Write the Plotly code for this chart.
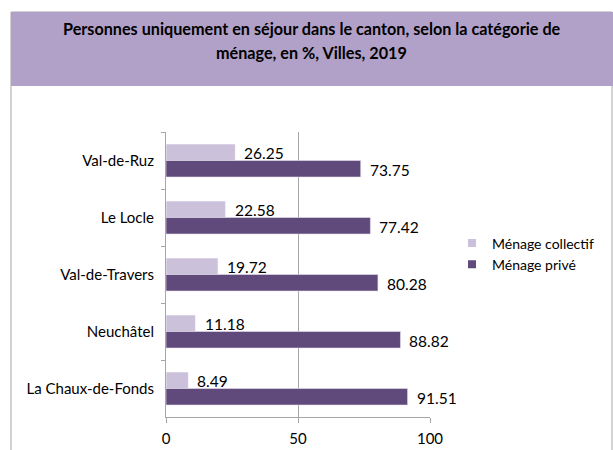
import plotly.graph_objects as go

# ---- data ----
villes = ["Val-de-Ruz", "Le Locle", "Val-de-Travers", "Neuchâtel", "La Chaux-de-Fonds"]
menage_collectif = [26.25, 22.58, 19.72, 11.18, 8.49]
menage_prive = [73.75, 77.42, 80.28, 88.82, 91.51]
series_names = ["Ménage collectif", "Ménage privé"]
x_ticks = [0, 50, 100]
title_lines = ["Personnes uniquement en séjour dans le canton, selon la catégorie de",
               "ménage, en %, Villes, 2019"]

# ---- style ----
C_COLL = "#CCC1DA"
C_PRIV = "#604A7B"
C_BAND = "#B1A0C7"
C_AXIS = "#A6A6A6"
FONT = "Lato"

W, H = 613, 450
ML, MR, MT, MB = 166, 183, 132, 33
PW, PH = W - ML - MR, H - MT - MB
BARGAP = 0.42


def px2x(px):
    return (px - ML) / PW


def py2y(py):
    return (H - MB - py) / PH


fig = go.Figure()
series = [(series_names[0], menage_collectif, C_COLL, "#FFFFFF"),
          (series_names[1], menage_prive, C_PRIV, "#E6E0EE")]
for name, vals, col, edge in series:
    fig.add_trace(go.Bar(
        y=villes, x=vals, orientation="h", name=name,
        marker=dict(color=col, line=dict(color=edge, width=0.6)),
        showlegend=False, legendgroup=name,
    ))
    # legend proxy with small square
    fig.add_trace(go.Scatter(
        x=[None], y=[None], mode="markers", name=name, legendgroup=name,
        marker=dict(symbol="square", size=8, color=col), showlegend=True,
    ))

shapes = [
    # chart frame
    dict(type="rect", xref="paper", yref="paper",
         x0=px2x(11), x1=px2x(612), y0=py2y(470), y1=py2y(12),
         line=dict(color=C_AXIS, width=1), fillcolor="rgba(0,0,0,0)", layer="below"),
    # title band
    dict(type="rect", xref="paper", yref="paper",
         x0=px2x(11), x1=px2x(620), y0=py2y(86), y1=py2y(12),
         line=dict(width=0), fillcolor=C_BAND, layer="below"),
]

annotations = []
for line, ypx in zip(title_lines, [28, 52]):
    annotations.append(dict(
        text=f"<b>{line}</b>", xref="paper", yref="paper",
        x=px2x(311.5), y=py2y(ypx), xanchor="center", yanchor="middle",
        showarrow=False, font=dict(family=FONT, size=16.2, color="#000000"),
    ))

# value labels, placed beside each bar end
half = (1 - BARGAP) / 4
for k, (name, vals, col, edge) in enumerate(series):
    off = -half if k == 0 else half
    for i, v in enumerate(vals):
        annotations.append(dict(
            text=f"{v:.2f}", xref="x", yref="y", x=v, y=i + off,
            xanchor="left", yanchor="middle", xshift=7, yshift=-1,
            showarrow=False, font=dict(family=FONT, size=15.5, color="#000000"),
        ))

fig.update_layout(
    width=W, height=H, autosize=False,
    margin=dict(l=ML, r=MR, t=MT, b=MB, pad=0, autoexpand=False),
    paper_bgcolor="#FFFFFF", plot_bgcolor="#FFFFFF",
    barmode="group", bargap=BARGAP, bargroupgap=0,
    font=dict(family=FONT, size=14, color="#000000"),
    shapes=shapes, annotations=annotations,
    legend=dict(
        x=px2x(452), y=py2y(254), xanchor="left", yanchor="middle",
        traceorder="normal", itemwidth=30,
        font=dict(family=FONT, size=14, color="#000000"),
        bgcolor="rgba(0,0,0,0)", tracegroupgap=4,
    ),
    xaxis=dict(
        range=[0, 100], tickvals=x_ticks, ticktext=[str(t) for t in x_ticks],
        showgrid=True, gridcolor=C_AXIS, gridwidth=1, zeroline=False,
        showline=True, linecolor=C_AXIS, linewidth=1,
        ticks="outside", ticklen=5, tickcolor=C_AXIS,
        tickfont=dict(family=FONT, size=15), ticklabelstandoff=3,
        fixedrange=True,
    ),
    yaxis=dict(
        categoryorder="array", categoryarray=villes, autorange="reversed",
        showline=True, linecolor=C_AXIS, linewidth=1, showgrid=False, zeroline=False,
        ticks="outside", ticklen=4, tickcolor=C_AXIS, tickson="boundaries",
        tickfont=dict(family=FONT, size=15), ticklabelstandoff=8,
        fixedrange=True,
    ),
)

fig.write_html(
    "out.html",
    config={"displayModeBar": False},
    post_script="document.body.style.margin='0';document.body.style.padding='0';",
)
